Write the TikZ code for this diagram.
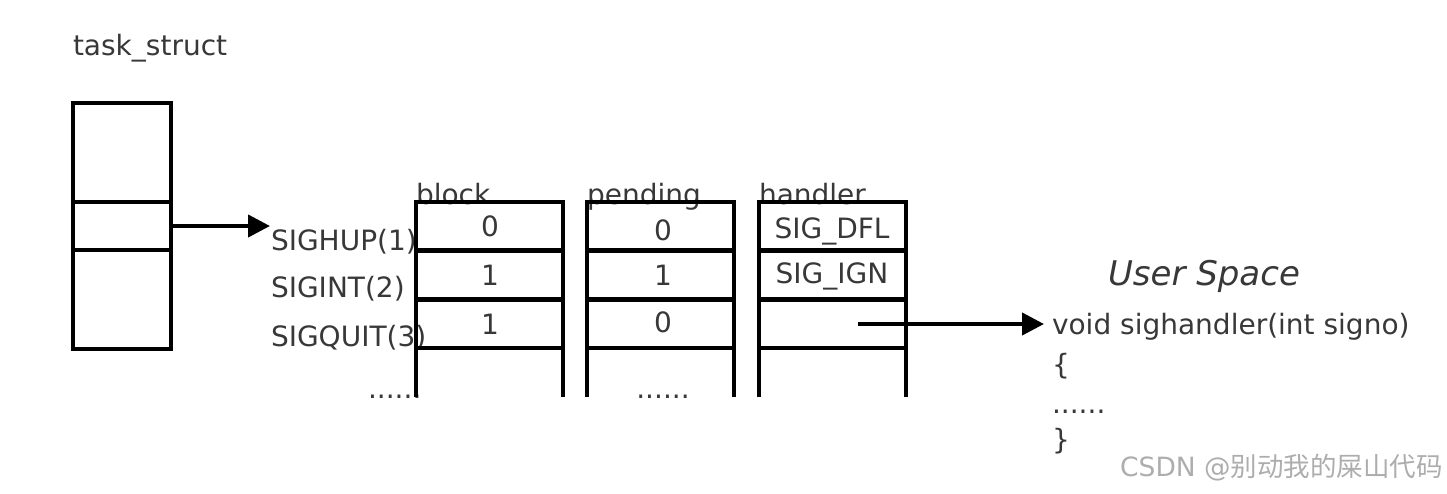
\documentclass[tikz,border=0pt]{standalone}
\usepackage{fontspec}
\setmainfont{DejaVu Sans}
\newfontfamily\cjkfont{Noto Sans CJK SC}
\usetikzlibrary{arrows.meta}
\begin{document}
\begin{tikzpicture}[x=1pt,y=-1pt,
  lw/.style={line width=4.2pt},
  cell/.style={draw,lw,minimum width=147pt,minimum height=49pt,inner sep=0pt,outer sep=0pt,anchor=north west},
  tcell/.style={draw,lw,minimum width=98pt,inner sep=0pt,outer sep=0pt,anchor=north west},
  txt/.style={font=\fontsize{28}{32}\selectfont,text=black!78,inner sep=0pt,outer sep=0pt},
  conn/.style={lw,-{Triangle[length=22pt,width=22pt]}}]
\useasboundingbox (0,0) rectangle (1447,493);
% task_struct
\node[txt,anchor=base west] (tsl) at (73,55) {task\_struct};
\node[tcell,minimum height=99pt] (t1) at (73,103) {};
\node[tcell,minimum height=48pt] (t2) at (73,202) {};
\node[tcell,minimum height=99pt] (t3) at (73,250) {};
% signal names
\node[txt,anchor=base west] (s1) at (271,250) {SIGHUP(1)};
\node[txt,anchor=base west] (s2) at (271,297) {SIGINT(2)};
\node[txt,anchor=base west] (s3) at (271,346) {SIGQUIT(3)};
\node[txt,anchor=base west] (s4) at (368,398) {......};
\coordinate (arrend) at (270,226);
\draw[conn] (t2.east) -- (arrend);
% block column
\node[txt,anchor=base west] (bl) at (416,204) {block};
\node[cell] (b1) at (416,202) {};
\node[cell] (b2) at (416,250.5) {};
\node[cell] (b3) at (416,299) {};
\draw[lw] (b3.south west) -- ++(0,49);
\draw[lw] (b3.south east) -- ++(0,49);
\node[txt,anchor=base] at (490,236) {0};
\node[txt,anchor=base] at (490,285) {1};
\node[txt,anchor=base] at (490,334) {1};
% pending column
\node[txt,anchor=base west] (pl) at (587,204) {pending};
\node[cell] (p1) at (587,202) {};
\node[cell] (p2) at (587,250.5) {};
\node[cell] (p3) at (587,299) {};
\draw[lw] (p3.south west) -- ++(0,49);
\draw[lw] (p3.south east) -- ++(0,49);
\node[txt,anchor=base] at (663,240) {0};
\node[txt,anchor=base] at (663,285) {1};
\node[txt,anchor=base] at (663,332) {0};
\node[txt,anchor=base] at (663,398) {......};
% handler column
\node[txt,anchor=base west] (hl) at (759,204) {handler};
\node[cell] (h1) at (759,202) {};
\node[cell] (h2) at (759,250.5) {};
\node[cell] (h3) at (759,299) {};
\draw[lw] (h3.south west) -- ++(0,49);
\draw[lw] (h3.south east) -- ++(0,49);
\node[txt,anchor=base] at (832,238) {SIG\_DFL};
\node[txt,anchor=base] at (832,283) {SIG\_IGN};
% user space
\node[txt,anchor=base west,font=\fontsize{34}{38}\selectfont\itshape] (us) at (1108,285) {User Space};
\node[txt,anchor=base west] (fn) at (1052,334) {void sighandler(int signo)};
\node[txt,anchor=base west] (lb) at (1052,374) {\{};
\node[txt,anchor=base west] (dd) at (1052,413) {......};
\node[txt,anchor=base west] (rb) at (1052,449) {\}};
\coordinate (hstart) at (858,324);
\draw[conn] (hstart) -- ([xshift=-8pt]fn.west |- hstart);
% watermark
\node[anchor=base west,inner sep=0pt,text=black!32,font=\fontsize{26.5}{30}\selectfont] (wm) at (1120,476) {CSDN @{\cjkfont 别动我的屎山代码}};
\end{tikzpicture}
\end{document}
